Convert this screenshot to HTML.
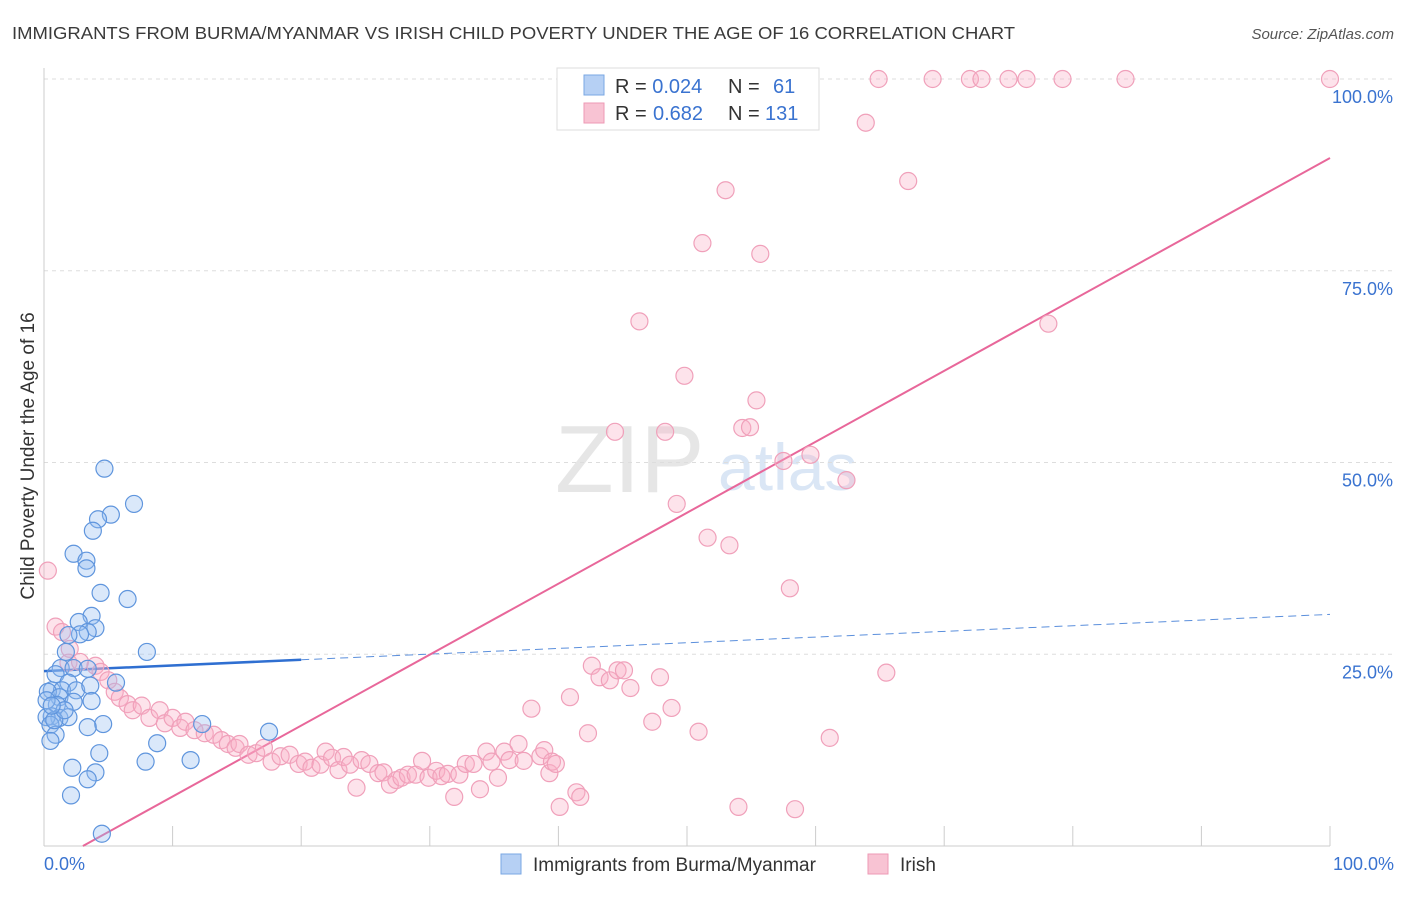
<!DOCTYPE html>
<html><head><meta charset="utf-8"><style>
body{margin:0;background:#fff;font-family:"Liberation Sans",sans-serif;}
svg text{font-family:"Liberation Sans",sans-serif;}
</style></head><body>
<svg id="chart" width="1406" height="892" xmlns="http://www.w3.org/2000/svg">
<text x="12" y="39" font-size="17.5" fill="#3a3a3a" textLength="1003" lengthAdjust="spacingAndGlyphs">IMMIGRANTS FROM BURMA/MYANMAR VS IRISH CHILD POVERTY UNDER THE AGE OF 16 CORRELATION CHART</text>
<text x="1394" y="39" font-size="15" fill="#555" text-anchor="end" font-style="italic">Source: ZipAtlas.com</text>
<g opacity="0.2"><text x="555" y="492" font-size="96" font-family="Liberation Serif" fill="#888">ZIP</text><text x="718" y="490" font-size="66" fill="#4a86d0">atlas</text></g>
<g id="grid"></g>
<g id="axes"></g>
<g id="trend"></g>
<g id="pts"></g>
<text transform="translate(34,456) rotate(-90)" font-size="19" fill="#333" text-anchor="middle">Child Poverty Under the Age of 16</text>
<g>
<rect x="557" y="68" width="262" height="62" fill="#fff" stroke="#ddd"/>
<rect x="584" y="75" width="20" height="20" fill="#b6d0f4" stroke="#7aa7e3"/>
<rect x="584" y="103" width="20" height="20" fill="#f8c3d3" stroke="#ee9ab4"/>
<text x="615" y="93" font-size="20" fill="#333">R = <tspan fill="#3a73d0">0.024</tspan><tspan x="728">N = </tspan><tspan x="773" fill="#3a73d0">61</tspan></text>
<text x="615" y="120" font-size="20" fill="#333">R = <tspan x="653" fill="#3a73d0">0.682</tspan><tspan x="728">N = </tspan><tspan x="765" fill="#3a73d0">131</tspan></text>
</g>
<g>
<rect x="501" y="854" width="20" height="20" fill="#b6d0f4" stroke="#7aa7e3"/>
<text x="533" y="871" font-size="19" fill="#333">Immigrants from Burma/Myanmar</text>
<rect x="868" y="854" width="20" height="20" fill="#f8c3d3" stroke="#ee9ab4"/>
<text x="900" y="871" font-size="19" fill="#333">Irish</text>
</g>
</svg>
<script>
const blueX=[4.7,7.0,5.2,4.2,3.8,2.3,3.3,3.3,6.5,4.4,3.7,2.7,4.0,3.4,2.8,1.9,8.0,1.7,1.3,2.3,3.4,0.9,1.9,0.6,1.4,2.5,5.6,3.6,0.3,1.2,2.3,3.7,1.0,0.6,1.2,0.2,1.9,12.3,4.6,3.4,0.5,0.9,0.5,17.5,8.8,4.3,11.4,7.9,2.2,4.0,3.4,2.1,4.5,0.8,1.6,0.2,0.6];
const blueY=[49.2,44.6,43.2,42.6,41.1,38.1,37.2,36.2,32.2,33.0,30.0,29.2,28.4,27.9,27.6,27.5,25.3,25.3,23.2,23.2,23.1,22.4,21.3,20.3,20.3,20.3,21.3,20.9,20.1,19.4,18.8,18.9,18.4,16.9,16.7,16.8,16.8,15.9,15.9,15.5,15.8,14.5,13.7,14.9,13.4,12.1,11.2,11.0,10.2,9.6,8.7,6.6,1.6,16.4,17.7,19.0,18.3];
const pinkX=[0.3,0.9,1.4,2.0,1.9,2.8,4.0,4.4,5.0,5.5,5.9,6.5,6.9,7.6,8.2,9.0,9.4,10.0,10.6,11.0,11.7,12.5,13.2,13.8,14.3,14.9,15.2,15.9,16.5,17.1,17.7,18.4,19.1,19.8,20.3,20.8,21.5,21.9,22.4,22.9,23.3,23.8,24.3,24.7,25.3,26.0,26.4,26.9,27.4,27.8,28.3,28.9,29.4,29.9,30.5,30.9,31.4,31.9,32.3,32.8,33.4,33.9,34.4,34.8,35.3,35.8,36.2,36.9,37.3,37.9,38.6,38.9,39.3,39.5,39.8,40.1,40.9,41.4,41.7,42.3,42.6,43.2,44.0,44.6,45.1,45.6,47.3,47.9,48.8,50.9,51.6,53.3,54.0,58.0,58.4,61.1,65.5,44.4,48.3,49.2,49.8,46.3,51.2,55.7,53.0,54.3,54.9,55.4,57.5,59.6,62.4,63.9,67.2,78.1,47.7,57.2,59.1,64.9,69.1,72.0,72.9,75.0,76.4,79.2,84.1,100];
const pinkY=[35.9,28.6,27.9,25.7,23.9,24.0,23.5,22.7,21.6,20.1,19.3,18.5,17.7,18.3,16.7,17.7,16.0,16.7,15.4,16.2,15.1,14.7,14.5,13.8,13.3,12.8,13.3,11.9,12.1,12.8,11.0,11.7,11.9,10.7,11.0,10.2,10.6,12.3,11.5,9.9,11.6,10.6,7.6,11.2,10.7,9.5,9.6,8.0,8.6,8.9,9.3,9.3,11.1,8.9,9.8,9.1,9.4,6.4,9.3,10.7,10.7,7.4,12.3,11.0,8.9,12.3,11.2,13.3,11.1,17.9,11.7,12.5,9.5,11.0,10.7,5.1,19.4,7.0,6.4,14.7,23.5,22.0,21.6,22.9,22.9,20.6,16.2,22.0,18.0,14.9,40.2,39.2,5.1,33.6,4.8,14.1,22.6,54.0,54.0,44.6,61.3,68.4,78.6,77.2,85.5,54.5,54.6,58.1,50.2,51.0,47.7,94.3,86.7,68.1,98.8,100,100,100,100,100,100,100,100,100,100,100];
const yTicks=[25,50,75,100];
const yTickLabels=["25.0%","50.0%","75.0%","100.0%"];
const xTicks=[0,10,20,30,40,50,60,70,80,90,100];
const blueTrend=[22.8,30.2];
const pinkTrend=[-2.8,89.7];

const NS="http://www.w3.org/2000/svg";
const X0=44,X1=1330,Y0=846,Y1=79;
const sx=v=>X0+(X1-X0)*v/100, sy=v=>Y0-(Y0-Y1)*v/100;
function mk(t,a,p){const e=document.createElementNS(NS,t);for(const k in a)e.setAttribute(k,a[k]);p.appendChild(e);return e;}
const grid=document.getElementById('grid'),axes=document.getElementById('axes'),tr=document.getElementById('trend'),pts=document.getElementById('pts');
yTicks.forEach((v,i)=>{
 const l=mk('line',{x1:X0,x2:1394,y1:sy(v),y2:sy(v),stroke:'#ddd','stroke-dasharray':'4,4'},grid);
 
 
 const t=mk('text',{x:1393,y:sy(v)+24,'font-size':18,fill:'#3a73d0','text-anchor':'end'},axes);
 t.textContent=yTickLabels[i];
 
 
});
mk('line',{x1:X0,x2:X0,y1:68,y2:Y0,stroke:'#ccc'},axes);
mk('line',{x1:X0,x2:X1,y1:Y0,y2:Y0,stroke:'#ccc'},axes);
xTicks.forEach(v=>{const l=mk('line',{x1:sx(v),x2:sx(v),y1:826,y2:Y0,stroke:'#ccc'},axes);
 
 });
let t=mk('text',{x:44,y:870,'font-size':18,fill:'#3a73d0'},axes);t.textContent='0.0%';

t=mk('text',{x:1394,y:870,'font-size':18,fill:'#3a73d0','text-anchor':'end'},axes);t.textContent='100.0%';

const bAt=x=>blueTrend[0]+(blueTrend[1]-blueTrend[0])*x/100;
let l=mk('line',{x1:sx(0),y1:sy(bAt(0)),x2:sx(20),y2:sy(bAt(20)),stroke:'#2f6fd1','stroke-width':2.5},tr);

l=mk('line',{x1:sx(20),y1:sy(bAt(20)),x2:sx(100),y2:sy(bAt(100)),stroke:'#5b8fdc','stroke-width':1,'stroke-dasharray':'8,5'},tr);

const pAt=x=>pinkTrend[0]+(pinkTrend[1]-pinkTrend[0])*x/100;
const xs=-pinkTrend[0]/(pinkTrend[1]-pinkTrend[0])*100;
l=mk('line',{x1:sx(xs),y1:sy(0),x2:sx(100),y2:sy(pAt(100)),stroke:'#e8679a','stroke-width':2},tr);

function dots(X,Y,fill,stroke,name){X.forEach((x,i)=>{const c=mk('circle',{cx:sx(x),cy:sy(Y[i]),r:8.5,fill:fill,stroke:stroke,'stroke-width':1.2},pts);
 
 });}
dots(pinkX,pinkY,'rgba(248,175,198,0.35)','#f0a0ba','irish-point');
dots(blueX,blueY,'rgba(150,190,240,0.35)','#5f95dd','burma-point');
</script>
</body></html>
